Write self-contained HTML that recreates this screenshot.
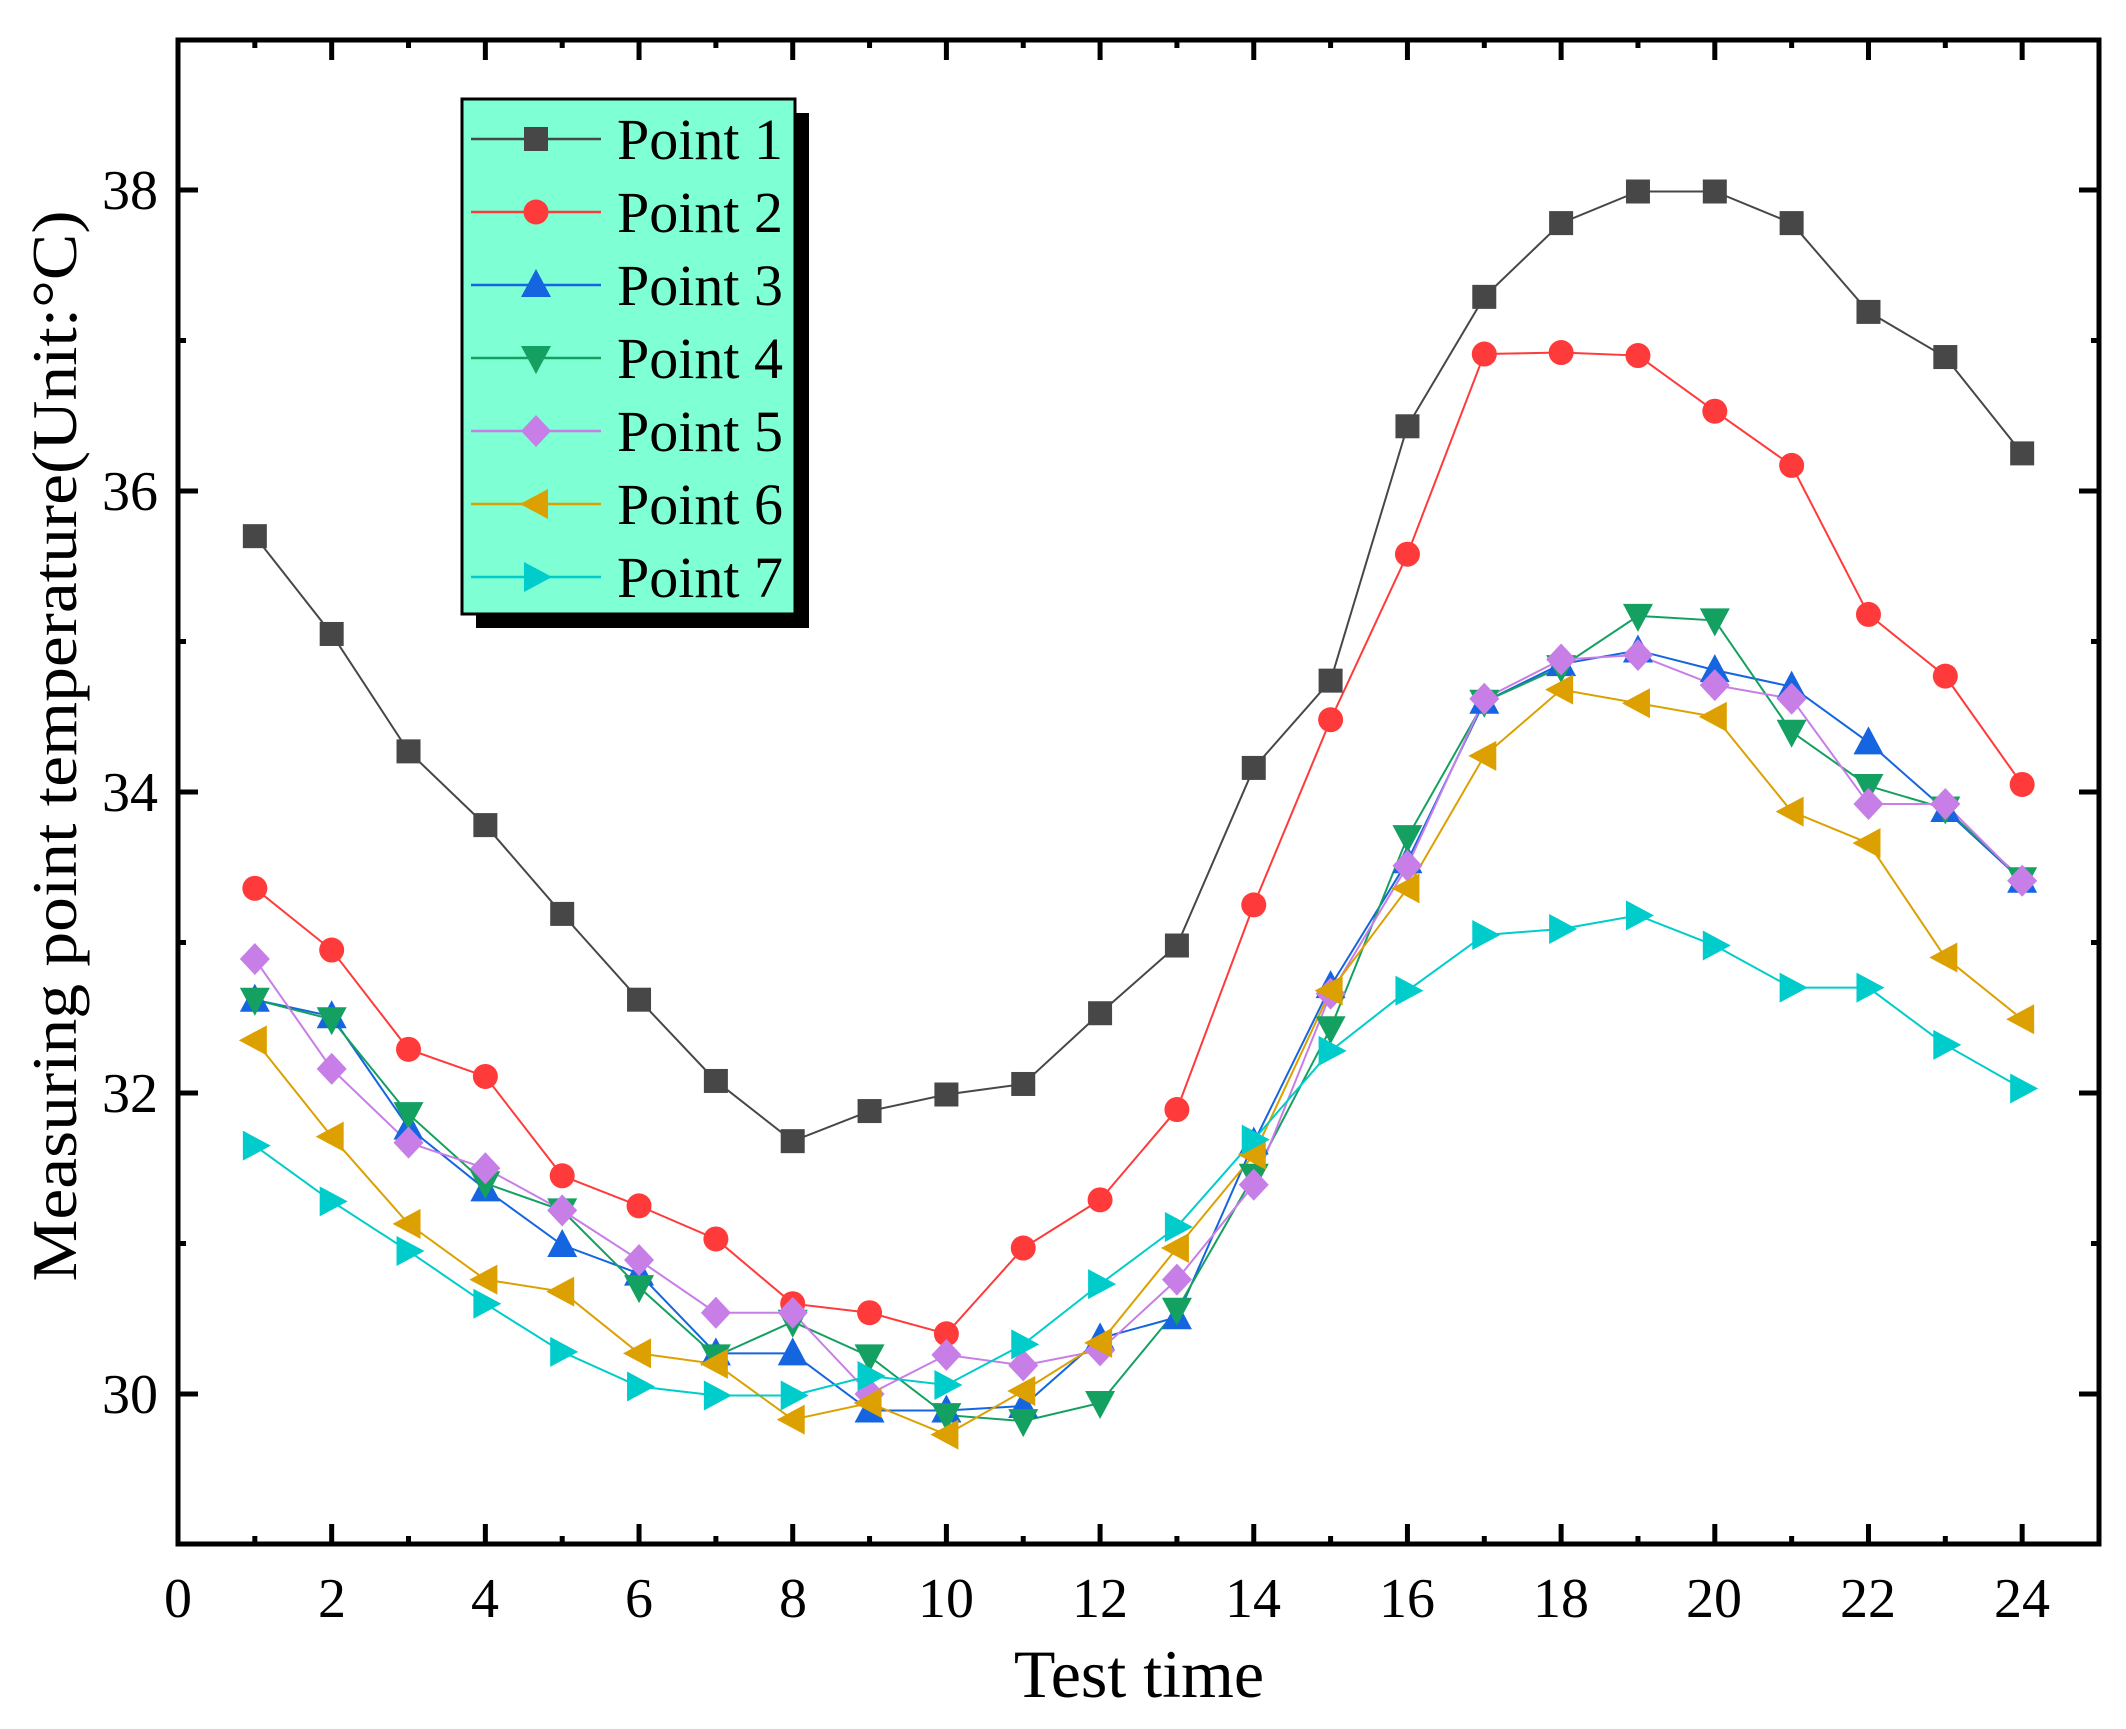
<!DOCTYPE html>
<html><head><meta charset="utf-8"><style>
html,body{margin:0;padding:0;background:#fff;}
svg{display:block;}
text{font-family:"Liberation Serif",serif;fill:#000;}
</style></head><body>
<svg id="s" width="2126" height="1729" viewBox="0 0 2126 1729" xmlns="http://www.w3.org/2000/svg">
<g id="plot"></g>
<rect x="178" y="40" width="1921" height="1504" fill="none" stroke="#000" stroke-width="5"/>
<g id="ticks" stroke="#000" stroke-width="5"></g>
<g font-size="56" text-anchor="middle">
<text x="178" y="1617">0</text><text x="332" y="1617">2</text><text x="485" y="1617">4</text><text x="639" y="1617">6</text><text x="793" y="1617">8</text><text x="946" y="1617">10</text><text x="1100" y="1617">12</text><text x="1253" y="1617">14</text><text x="1407" y="1617">16</text><text x="1561" y="1617">18</text><text x="1714" y="1617">20</text><text x="1868" y="1617">22</text><text x="2022" y="1617">24</text>
</g>
<g font-size="56" text-anchor="end">
<text x="158" y="1413">30</text><text x="158" y="1112">32</text><text x="158" y="811">34</text><text x="158" y="510">36</text><text x="158" y="209">38</text>
</g>
<text x="1139" y="1697" font-size="68" text-anchor="middle">Test time</text>
<text transform="translate(76,746) rotate(-90)" font-size="64" text-anchor="middle" textLength="1071" lengthAdjust="spacingAndGlyphs">Measuring point temperature(Unit:°C)</text>
<rect x="476" y="113" width="333" height="515" fill="#000"/>
<rect x="462" y="99" width="333" height="515" fill="#7fffd4" stroke="#000" stroke-width="3"/>
<g id="leg"></g>
<g font-size="58">
<text x="617" y="159">Point 1</text><text x="617" y="232">Point 2</text><text x="617" y="305">Point 3</text><text x="617" y="378">Point 4</text><text x="617" y="451">Point 5</text><text x="617" y="524">Point 6</text><text x="617" y="597">Point 7</text>
</g>
</svg>
<script>
var NS="http://www.w3.org/2000/svg";
function X(v){return 178+v*76.84;}
function Y(v){return 1394-(v-30)*150.5;}
var D=[
["#474747","sq",[35.70,35.05,34.27,33.78,33.19,32.62,32.08,31.68,31.88,31.99,32.06,32.53,32.98,34.16,34.74,36.43,37.29,37.78,37.99,37.99,37.78,37.19,36.89,36.25]],
["#ff3a3a","ci",[33.36,32.95,32.29,32.11,31.45,31.25,31.03,30.60,30.54,30.40,30.97,31.29,31.89,33.25,34.48,35.58,36.91,36.92,36.90,36.53,36.17,35.18,34.77,34.05]],
["#1565e0","up",[32.62,32.51,31.77,31.36,30.99,30.80,30.27,30.27,29.89,29.89,29.92,30.37,30.51,31.67,32.71,33.54,34.60,34.85,34.94,34.81,34.70,34.33,33.88,33.41]],
["#14a060","dn",[32.62,32.49,31.86,31.40,31.22,30.71,30.25,30.48,30.25,29.86,29.82,29.94,30.56,31.45,32.43,33.70,34.60,34.83,35.17,35.14,34.40,34.04,33.89,33.42]],
["#c77ee6","di",[32.89,32.16,31.67,31.50,31.22,30.89,30.54,30.54,30.00,30.26,30.19,30.29,30.76,31.39,32.66,33.51,34.62,34.88,34.91,34.71,34.62,33.92,33.92,33.41]],
["#dca000","lt",[32.35,31.71,31.13,30.76,30.68,30.27,30.20,29.83,29.94,29.73,30.02,30.34,30.97,31.59,32.68,33.36,34.24,34.68,34.59,34.50,33.87,33.66,32.90,32.49]],
["#00cccc","rt",[31.65,31.28,30.95,30.60,30.28,30.05,29.99,29.99,30.12,30.06,30.33,30.73,31.11,31.69,32.28,32.68,33.05,33.09,33.18,32.98,32.70,32.70,32.32,32.03]]
];
function el(t,a,p){var e=document.createElementNS(NS,t);for(var k in a)e.setAttribute(k,a[k]);p.appendChild(e);return e;}
function marker(g,sh,x,y,c){
 var r=13;
 if(sh=="sq")el("rect",{x:x-12,y:y-12,width:24,height:24,fill:c},g);
 else if(sh=="ci")el("circle",{cx:x,cy:y,r:12.5,fill:c},g);
 else{var p;
  if(sh=="up")p=[[x,y-16],[x+15,y+12],[x-15,y+12]];
  if(sh=="dn")p=[[x,y+16],[x+15,y-12],[x-15,y-12]];
  if(sh=="lt")p=[[x-16,y],[x+12,y-15],[x+12,y+15]];
  if(sh=="rt")p=[[x+16,y],[x-12,y-15],[x-12,y+15]];
  if(sh=="di")p=[[x,y-16],[x+15,y],[x,y+16],[x-15,y]];
  el("polygon",{points:p.map(function(q){return q.join(",")}).join(" "),fill:c},g);}
}
var plot=document.getElementById("plot"),leg=document.getElementById("leg");
D.forEach(function(d,i){
 var pts=d[2].map(function(v,j){return X(j+1)+","+Y(v)}).join(" ");
 el("polyline",{points:pts,fill:"none",stroke:d[0],"stroke-width":2},plot);
});
D.forEach(function(d,i){
 d[2].forEach(function(v,j){marker(plot,d[1],X(j+1),Y(v),d[0]);});
 var ly=139+73*i;
 el("line",{x1:471,y1:ly,x2:601,y2:ly,stroke:d[0],"stroke-width":2.5},leg);
 marker(leg,d[1],536,ly,d[0]);
});
var t=document.getElementById("ticks");
for(var v=1;v<=24;v++){var x=X(v),L=(v%2==0)?20:8;
 el("line",{x1:x,y1:1544,x2:x,y2:1544-L},t);el("line",{x1:x,y1:40,x2:x,y2:40+L},t);}
for(var v=29.5;v<=39;v+=1){ }
for(var v=30;v<=38;v+=2){var y=Y(v);
 el("line",{x1:178,y1:y,x2:198,y2:y},t);el("line",{x1:2099,y1:y,x2:2079,y2:y},t);}
for(var v=29;v<=39;v+=2){var y=Y(v);if(v==29||v==39)continue;
 el("line",{x1:178,y1:y,x2:186,y2:y},t);el("line",{x1:2099,y1:y,x2:2091,y2:y},t);}
</script>
</body></html>
